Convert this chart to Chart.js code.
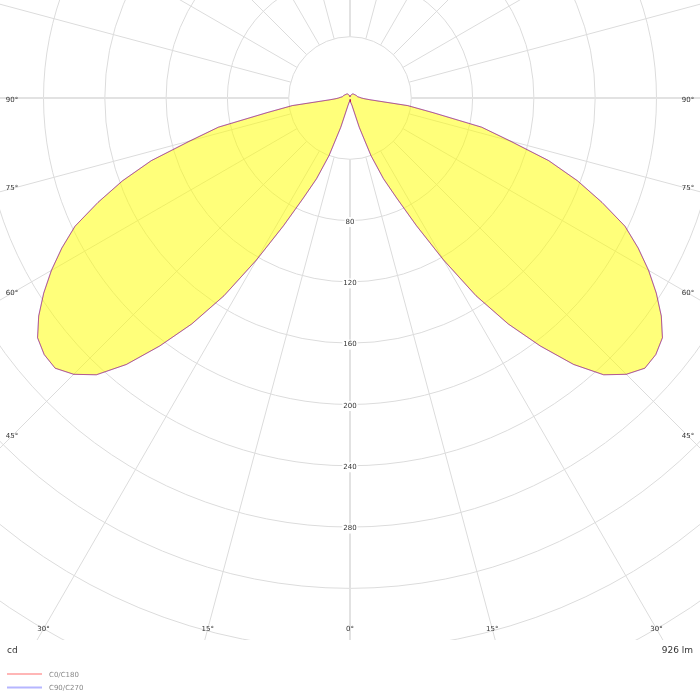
<!DOCTYPE html>
<html>
<head>
<meta charset="utf-8">
<script src="https://cdn.jsdelivr.net/npm/chart.js@4.4.1/dist/chart.umd.min.js"></script>
<style>
  html, body { margin: 0; padding: 0; background: #fff; }
  #wrap { width: 700px; height: 700px; position: relative; }
</style>
</head>
<body>
<div id="wrap"><canvas id="ldc"></canvas></div>
<script>
'use strict';

// gamma angle from nadir (deg) and luminous intensity (cd)
const gammaDeg = [0, 5, 10, 15, 17.5, 20, 22.5, 25, 27.5, 30, 32.5, 35, 37.5, 40, 42.5, 45, 47.5, 50,
    52.5, 55, 57.5, 60, 62.5, 65, 67.5, 70, 72.5, 75, 77.5, 80, 82.5, 85, 87.5, 90,
    95, 100, 110, 120, 130, 140, 150, 160, 170, 180];
const cdC0C180 = [1, 1.5, 2.5, 5, 20, 40, 57, 72, 94, 122, 153, 180, 204, 227, 245, 255, 261, 260.5,
    257, 248, 237, 225, 212, 198, 178, 158, 136, 108, 88, 55, 38, 13, 9, 7.5,
    6, 5, 4.5, 4, 3.6, 3.4, 3, 2, 1.5, 1];
const cdC90C270 = [1, 1.5, 2.5, 5, 20, 40, 57, 72, 94, 122, 153, 180, 204, 227, 245, 255, 261, 260.5,
    257, 248, 237, 225, 212, 198, 178, 158, 136, 108, 88, 55, 38, 13, 9, 7.5,
    6, 5, 4.5, 4, 3.6, 3.4, 3, 2, 1.5, 1];
const seriesNames = ['C0/C180', 'C90/C270'];
const ringCd = [40, 80, 120, 160, 200, 240, 280, 320, 360, 400, 440];
const ringLabels = [80, 120, 160, 200, 240, 280];
const angleLabels = [0, 15, 30, 45, 60, 75, 90];
const unitText = 'cd';
const fluxText = '926 lm';

const DEG = Math.PI / 180;

// one plane -> closed loop: first half on the right, second half mirrored on the left
function planeLoop(cd) {
    const pts = [];
    for (let i = 0; i < gammaDeg.length; i++) {
        const g = gammaDeg[i] * DEG;
        pts.push({x: cd[i] * Math.sin(g), y: -cd[i] * Math.cos(g)});
    }
    for (let i = gammaDeg.length - 2; i >= 0; i--) {
        const g = gammaDeg[i] * DEG;
        pts.push({x: -cd[i] * Math.sin(g), y: -cd[i] * Math.cos(g)});
    }
    return pts;
}

const polarGrid = {
    id: 'polarGrid',
    beforeDatasetsDraw(chart) {
        const {ctx, chartArea: a, scales: {x, y}} = chart;
        const cx = x.getPixelForValue(0), cy = y.getPixelForValue(0);
        const k = (x.getPixelForValue(100) - cx) / 100;
        ctx.save();
        ctx.beginPath();
        ctx.rect(a.left, a.top, a.right - a.left, a.bottom - a.top);
        ctx.clip();
        ctx.strokeStyle = '#dcdcdc';
        ctx.lineWidth = 1;
        ringCd.forEach(v => {
            ctx.beginPath();
            ctx.arc(cx, cy, v * k, 0, Math.PI * 2);
            ctx.stroke();
        });
        const r0 = ringCd[0] * k;
        for (let ang = 0; ang < 360; ang += 15) {
            const s = Math.sin(ang * DEG), c = Math.cos(ang * DEG);
            ctx.lineWidth = ang % 90 === 0 ? 2 : 1;
            ctx.strokeStyle = ang % 90 === 0 ? '#e2e2e2' : '#dcdcdc';
            ctx.beginPath();
            ctx.moveTo(cx + r0 * s, cy + r0 * c);
            ctx.lineTo(cx + 1200 * s, cy + 1200 * c);
            ctx.stroke();
        }
        ctx.restore();
    },
    afterDraw(chart) {
        const {ctx, chartArea: a, scales: {x, y}} = chart;
        const cx = x.getPixelForValue(0), cy = y.getPixelForValue(0);
        ctx.save();
        ctx.font = '7px "DejaVu Sans"';
        ctx.fillStyle = '#333';
        ctx.textAlign = 'center';
        ctx.textBaseline = 'middle';

        // intensity labels down the nadir line
        ringLabels.forEach(v => {
            const py = y.getPixelForValue(-v) + 1.5;
            const w = ctx.measureText(String(v)).width;
            ctx.fillStyle = '#fff';
            ctx.fillRect(cx - w / 2 - 1, py - 5, w + 2, 10);
            ctx.fillStyle = '#333';
            ctx.fillText(String(v), cx, py);
        });

        // gamma labels where the spokes leave the frame
        const inL = a.left + 12, inR = a.right - 12, inB = a.bottom - 11;
        angleLabels.forEach(g => {
            [-1, 1].forEach(side => {
                if (g === 0 && side === 1) return;
                const s = Math.sin(g * DEG), c = Math.cos(g * DEG);
                const tx = s > 1e-6 ? (side < 0 ? cx - inL : inR - cx) / s : Infinity;
                const ty = c > 1e-6 ? (inB - cy) / c : Infinity;
                const t = Math.min(tx, ty);
                let px = cx + side * s * t, py = cy + c * t;
                if (g === 90) py += 2;
                ctx.fillText(g + '\u00b0', px, py);
            });
        });

        // unit and flux
        ctx.font = '9px "DejaVu Sans"';
        ctx.fillStyle = '#333';
        ctx.textAlign = 'left';
        ctx.fillText(unitText, 7, a.bottom + 11);
        ctx.textAlign = 'right';
        ctx.fillText(fluxText, 693, a.bottom + 11);

        // legend
        const legendColors = ['#ffb6b6', '#b6b6ff'];
        ctx.font = '7px "DejaVu Sans"';
        ctx.textAlign = 'left';
        seriesNames.forEach((name, i) => {
            const ly = a.bottom + 34 + i * 13.5;
            ctx.strokeStyle = legendColors[i];
            ctx.lineWidth = 2;
            ctx.beginPath();
            ctx.moveTo(7, ly);
            ctx.lineTo(42, ly);
            ctx.stroke();
            ctx.fillStyle = '#888';
            ctx.fillText(name, 49, ly + 1);
        });
        ctx.restore();
    }
};

const config = {
    type: 'scatter',
    data: {
        datasets: [{
            label: seriesNames[0],
            data: planeLoop(cdC0C180),
            showLine: true,
            fill: false,
            borderColor: 'rgba(255, 0, 0, 0.35)',
            borderWidth: 1,
            pointRadius: 0,
            tension: 0
        }, {
            label: seriesNames[1],
            data: planeLoop(cdC90C270),
            showLine: true,
            fill: 'shape',
            backgroundColor: 'rgba(255, 255, 0, 0.52)',
            borderColor: 'rgba(0, 0, 255, 0.45)',
            borderWidth: 1,
            pointRadius: 0,
            tension: 0
        }]
    },
    options: {
        responsive: true,
        maintainAspectRatio: false,
        animation: false,
        layout: {
            padding: {left: 0, right: 0, top: 0, bottom: 60}
        },
        plugins: {
            legend: {display: false},
            tooltip: {enabled: false}
        },
        scales: {
            x: {type: 'linear', display: false, min: -228.4, max: 228.4},
            y: {type: 'linear', display: false, min: -353.7, max: 63.95}
        }
    },
    plugins: [polarGrid]
};

let ldcChart = new Chart(document.getElementById('ldc'), config);
</script>
</body>
</html>
